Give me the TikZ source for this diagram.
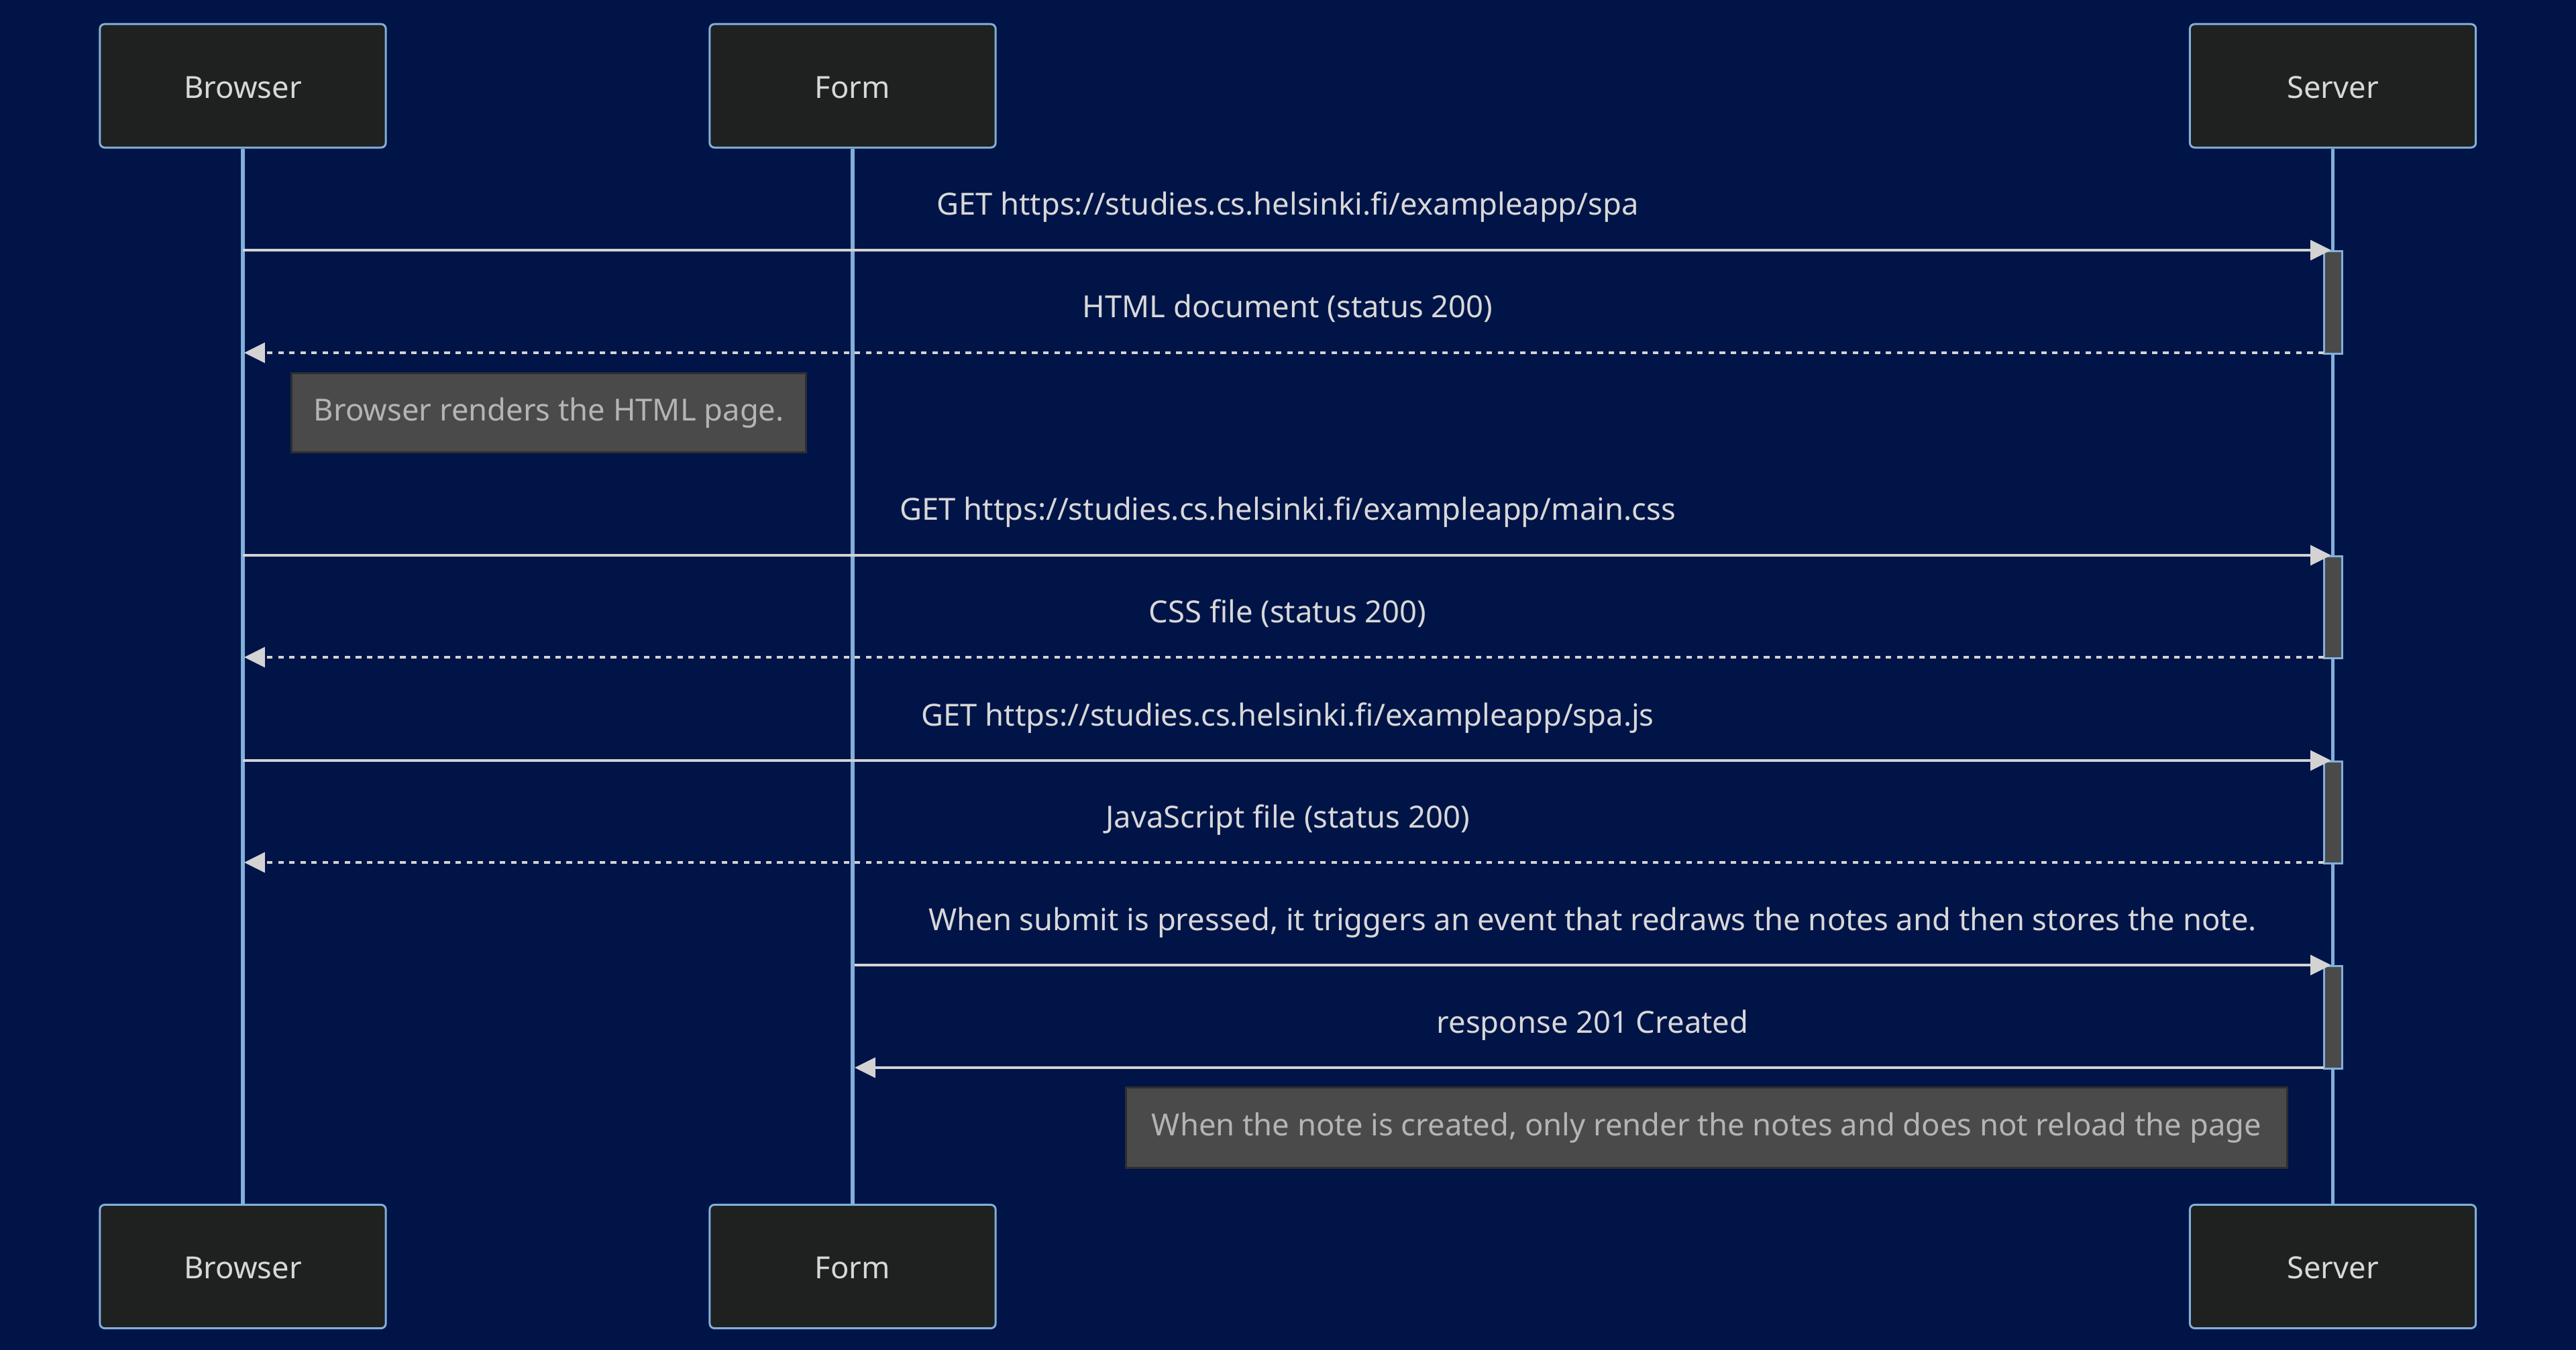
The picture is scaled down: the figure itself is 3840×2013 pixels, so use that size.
\documentclass[tikz,border=0pt]{standalone}
\usepackage{fontspec}
\setmainfont{Noto Sans}
\usetikzlibrary{arrows.meta}
\definecolor{bg}{HTML}{001447}
\definecolor{actfill}{HTML}{1F2020}
\definecolor{actline}{HTML}{81B1DB}
\definecolor{msgtext}{HTML}{D8D8D8}
\definecolor{msgline}{HTML}{D3D3D3}
\definecolor{notefill}{HTML}{4A4A4A}
\definecolor{noteline}{HTML}{2E2E2E}
\definecolor{notetext}{HTML}{B4B4B4}
\tikzset{
  actor/.style={draw=actline, line width=0.85pt, fill=actfill, rounded corners=2pt,
    minimum width=4.26cm, minimum height=1.84cm, inner sep=0pt, text=msgtext,
    text height=10.4pt, text depth=0pt,
    font=\fontsize{12.9pt}{15pt}\selectfont},
  lifeline/.style={draw=actline, line width=1.45pt},
  msglabel/.style={anchor=base, inner sep=0pt, text=msgtext, font=\fontsize{12.9pt}{15pt}\selectfont},
  msg/.style={draw=msgline, line width=1pt, -{Triangle[length=8.8pt,width=8.5pt]}},
  reply/.style={msg, dash pattern=on 2.35pt off 2.35pt},
  activation/.style={draw=actline, line width=0.85pt, fill=notefill},
  notebox/.style={draw=noteline, line width=0.85pt, fill=notefill, inner sep=0pt,
    text=notetext, font=\fontsize{12.9pt}{15pt}\selectfont}
}
\begin{document}
\begin{tikzpicture}[x=0.01cm,y=-0.01cm]
\fill[bg] (0,0) rectangle (3840,2013);
\useasboundingbox (0,0) rectangle (3840,2013);
% actors
\node[actor] (bt) at (362,128) {Browser};
\node[actor] (ft) at (1271,128) {Form};
\node[actor] (st) at (3477.5,128) {Server};
\node[actor] (bb) at (362,1888.5) {Browser};
\node[actor] (fb) at (1271,1888.5) {Form};
\node[actor] (sb) at (3477.5,1888.5) {Server};
% lifelines
\draw[lifeline] (bt.south) -- (bb.north);
\draw[lifeline] (ft.south) -- (fb.north);
\draw[lifeline] (st.south) -- (sb.north);
% activations
\foreach \ya/\yb/\n in {373/526/a1, 828/980/a2, 1134/1286/a3, 1439/1592/a4}{
  \node[activation, minimum width=0.27cm, minimum height={(\yb-\ya)*0.01cm}, inner sep=0pt, anchor=north] (\n) at (3477.5,\ya) {};
}
% endpoints
\coordinate (m1s) at (362,373);  \coordinate (m1e) at (3475,373);
\coordinate (m2s) at (3464,526); \coordinate (m2e) at (364,526);
\coordinate (m3s) at (362,828);  \coordinate (m3e) at (3475,828);
\coordinate (m4s) at (3464,980); \coordinate (m4e) at (364,980);
\coordinate (m5s) at (362,1134); \coordinate (m5e) at (3475,1134);
\coordinate (m6s) at (3464,1286); \coordinate (m6e) at (364,1286);
\coordinate (m7s) at (1274,1439); \coordinate (m7e) at (3475,1439);
\coordinate (m8s) at (3464,1592); \coordinate (m8e) at (1274,1592);
% messages
\draw[msg] (m1s) -- (m1e);
\node[msglabel] (l1) at (1919.5,321) {GET https://studies.cs.helsinki.fi/exampleapp/spa};
\draw[reply] (m2s) -- (m2e);
\node[msglabel] (l2) at (1919.5,474) {HTML document (status 200)};
\node[notebox, minimum width=7.67cm, minimum height=1.18cm, anchor=north west] (n1) at (433,555) {Browser renders the HTML page.};
\draw[msg] (m3s) -- (m3e);
\node[msglabel] (l3) at (1919.5,776) {GET https://studies.cs.helsinki.fi/exampleapp/main.css};
\draw[reply] (m4s) -- (m4e);
\node[msglabel] (l4) at (1919.5,928) {CSS file (status 200)};
\draw[msg] (m5s) -- (m5e);
\node[msglabel] (l5) at (1919.5,1082) {GET https://studies.cs.helsinki.fi/exampleapp/spa.js};
\draw[reply] (m6s) -- (m6e);
\node[msglabel] (l6) at (1919.5,1234) {JavaScript file (status 200)};
\draw[msg] (m7s) -- (m7e);
\node[msglabel] (l7) at (2374,1387) {When submit is pressed, it triggers an event that redraws the notes and then stores the note.};
\draw[msg] (m8s) -- (m8e);
\node[msglabel] (l8) at (2374,1540) {response 201 Created};
\node[notebox, minimum width=17.3cm, minimum height=1.2cm, anchor=north west] (n2) at (1677,1620) {When the note is created, only render the notes and does not reload the page};
\end{tikzpicture}
\end{document}
